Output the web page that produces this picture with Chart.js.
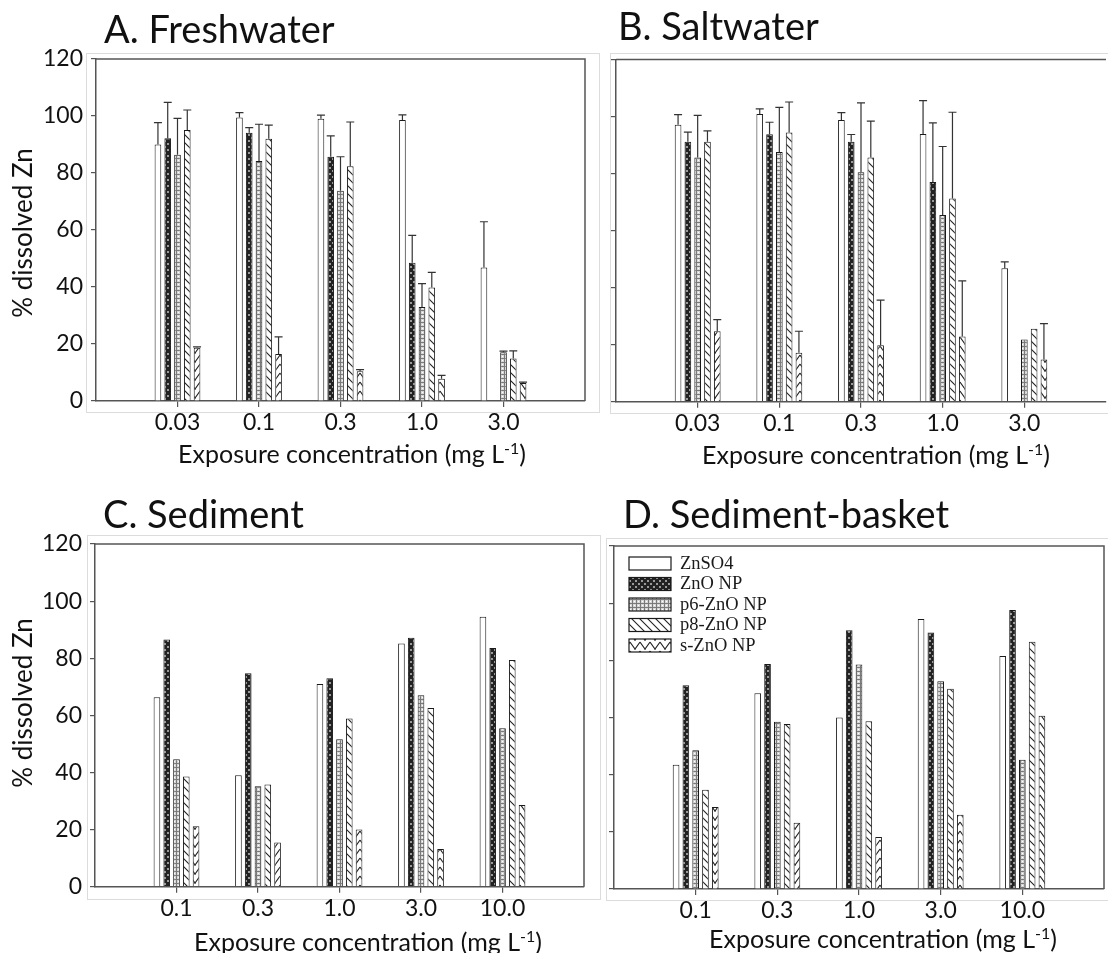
<!DOCTYPE html>
<html>
<head>
<meta charset="utf-8">
<script src="https://cdn.jsdelivr.net/npm/chart.js@4.4.1/dist/chart.umd.min.js"></script>
<style>
  html, body { margin: 0; padding: 0; background: #fff; }
  body { width: 1108px; height: 953px; position: relative; overflow: hidden; font-family: Lato, sans-serif; color: #111; }
  canvas { position: absolute; }
  .frame { position: absolute; border: 1px solid #dcdcdc; box-sizing: border-box; }
  .title { position: absolute; font-size: 38px; line-height: 38px; white-space: nowrap; z-index: 2; }
  .xtitle { position: absolute; width: 500px; text-align: center; font-size: 25px; line-height: 30px; white-space: nowrap; z-index: 2; }
  .xtitle sup { font-size: 16px; vertical-align: 9px; line-height: 0; }
  .ytitle { position: absolute; width: 240px; text-align: center; font-size: 26px; line-height: 30px; white-space: nowrap; transform: rotate(-90deg); z-index: 2; }
</style>
</head>
<body>
<div class="frame" style="left:86px;top:53px;width:514px;height:360px"></div>
<div class="frame" style="left:610px;top:53px;width:510px;height:361px"></div>
<div class="frame" style="left:87px;top:535px;width:514px;height:365px"></div>
<div class="frame" style="left:606px;top:538px;width:514px;height:363px"></div>

<canvas id="chartA"></canvas>
<canvas id="chartB"></canvas>
<canvas id="chartC"></canvas>
<canvas id="chartD"></canvas>

<div class="title" style="left:104px;top:9px">A. Freshwater</div>
<div class="title" style="left:618px;top:6px">B. Saltwater</div>
<div class="title" style="left:103px;top:494px">C. Sediment</div>
<div class="title" style="left:623px;top:494px">D. Sediment-basket</div>

<div class="xtitle" style="left:102px;top:438px">Exposure concentration (mg L<sup>-1</sup>)</div>
<div class="xtitle" style="left:626px;top:439px">Exposure concentration (mg L<sup>-1</sup>)</div>
<div class="xtitle" style="left:118px;top:926px">Exposure concentration (mg L<sup>-1</sup>)</div>
<div class="xtitle" style="left:633px;top:923px">Exposure concentration (mg L<sup>-1</sup>)</div>

<div class="ytitle" style="left:-98px;top:218px">% dissolved Zn</div>
<div class="ytitle" style="left:-98px;top:688px">% dissolved Zn</div>

<script>
// 물에서 노출한 농도와 퇴적물에서 노출한 농도 (mg/L)
const WATER_CONC = ['0.03', '0.1', '0.3', '1.0', '3.0'];
const SEDIMENT_CONC = ['0.1', '0.3', '1.0', '3.0', '10.0'];
const SERIES = ['ZnSO4', 'ZnO NP', 'p6-ZnO NP', 'p8-ZnO NP', 's-ZnO NP'];
const Y_MIN = 0;
const Y_MAX = 120;
const Y_STEP = 20;

// A. Freshwater: 평균과 위쪽 표준편차
const FRESH_ZNSO4 = [90.0, 99.5, 99.0, 98.6, 46.8];
const FRESH_ZNO = [92.2, 94.1, 85.7, 48.5, null];
const FRESH_P6 = [86.4, 84.2, 73.8, 33.0, 17.1];
const FRESH_P8 = [95.1, 92.0, 82.4, 39.8, 14.9];
const FRESH_S = [18.7, 16.5, 10.4, 7.8, 6.3];
const FRESH_ZNSO4_SD = [7.7, 1.7, 1.3, 1.8, 16.1];
const FRESH_ZNO_SD = [12.6, 1.8, 7.3, 9.6, null];
const FRESH_P6_SD = [12.8, 12.9, 11.9, 8.2, 0.4];
const FRESH_P8_SD = [7.0, 4.8, 15.5, 5.3, 2.7];
const FRESH_S_SD = [0.3, 6.0, 0.6, 1.2, 0.3];

// B. Saltwater
const SALT_ZNSO4 = [97.1, 100.9, 98.8, 93.9, 46.8];
const SALT_ZNO = [91.2, 93.8, 91.2, 77.0, null];
const SALT_P6 = [85.6, 87.6, 80.5, 65.5, 21.8];
const SALT_P8 = [91.2, 94.4, 85.6, 71.3, 25.6];
const SALT_S = [24.7, 17.2, 19.8, 22.9, 14.8];
const SALT_ZNSO4_SD = [3.6, 1.8, 2.6, 11.7, 2.2];
const SALT_ZNO_SD = [3.3, 4.2, 2.5, 20.8, null];
const SALT_P6_SD = [14.8, 15.6, 24.3, 24.0, null];
const SALT_P8_SD = [3.8, 10.7, 12.8, 30.2, null];
const SALT_S_SD = [4.1, 7.5, 15.8, 19.5, 12.6];

// C. Sediment
const SED_ZNSO4 = [66.3, 39.0, 71.0, 85.2, 94.5];
const SED_ZNO = [86.6, 74.7, 73.0, 87.2, 83.6];
const SED_P6 = [44.6, 35.2, 51.6, 67.0, 55.5];
const SED_P8 = [38.6, 35.8, 58.9, 62.6, 79.4];
const SED_S = [21.2, 15.5, 20.0, 13.2, 28.6];

// D. Sediment-basket
const BASKET_ZNSO4 = [43.5, 68.5, 60.0, 94.5, 81.5];
const BASKET_ZNO = [71.3, 78.7, 90.5, 89.7, 97.6];
const BASKET_P6 = [48.5, 58.5, 78.5, 72.7, 45.2];
const BASKET_P8 = [34.7, 57.7, 58.7, 70.1, 86.5];
const BASKET_S = [28.7, 23.2, 18.2, 26.0, 60.6];

const AXIS = '#555';
const INK = '#1a1a1a';

function tile(w, h, draw) {
  const c = document.createElement('canvas');
  c.width = w;
  c.height = h;
  const g = c.getContext('2d');
  draw(g, w, h);
  return g.createPattern(c, 'repeat');
}

const FILLS = [
  '#ffffff',
  tile(6, 6, (g) => {
    g.fillStyle = '#222';
    g.fillRect(0, 0, 6, 6);
    g.fillStyle = '#9a9a9a';
    g.fillRect(2, 2, 2, 2);
    g.fillRect(0, 0, 1, 1);
    g.fillRect(5, 5, 1, 1);
    g.fillRect(0, 5, 1, 1);
    g.fillRect(5, 0, 1, 1);
  }),
  tile(4, 4, (g) => {
    g.fillStyle = '#d6d6d6';
    g.fillRect(0, 0, 4, 4);
    g.fillStyle = '#7a7a7a';
    g.fillRect(0, 0, 4, 1);
    g.fillRect(0, 0, 1, 4);
    g.fillStyle = '#fff';
    g.fillRect(2, 2, 1, 1);
  }),
  tile(8, 8, (g) => {
    g.fillStyle = '#fff';
    g.fillRect(0, 0, 8, 8);
    g.strokeStyle = '#222';
    g.lineWidth = 1.1;
    g.beginPath();
    g.moveTo(-1, -1); g.lineTo(9, 9);
    g.moveTo(-1, 7); g.lineTo(1, 9);
    g.moveTo(7, -1); g.lineTo(9, 1);
    g.stroke();
  }),
  tile(10, 9, (g) => {
    g.fillStyle = '#fff';
    g.fillRect(0, 0, 10, 9);
    g.strokeStyle = '#222';
    g.lineWidth = 1.1;
    g.beginPath();
    g.moveTo(0, 1); g.lineTo(5, 8); g.lineTo(10, 1);
    g.moveTo(5, 8); g.lineTo(5, 9);
    g.stroke();
  }),
];

const pad = (arr) => [null, ...arr, null];

const framePlugin = {
  id: 'frame',
  afterDraw(chart, _args, opts) {
    const { ctx, chartArea: a } = chart;
    ctx.save();
    ctx.strokeStyle = AXIS;
    ctx.lineWidth = 1.5;
    ctx.beginPath();
    ctx.moveTo(a.left, a.top);
    ctx.lineTo(a.right, a.top);
    if (!opts.noRight) ctx.lineTo(a.right, a.bottom);
    ctx.stroke();
    ctx.restore();
  },
};

const errorPlugin = {
  id: 'errorBars',
  afterDatasetsDraw(chart) {
    const { ctx } = chart;
    const yScale = chart.scales.y;
    ctx.save();
    ctx.strokeStyle = '#333';
    ctx.lineWidth = 1.2;
    chart.data.datasets.forEach((ds, i) => {
      if (!ds.errors) return;
      const meta = chart.getDatasetMeta(i);
      ds.data.forEach((v, j) => {
        const sd = ds.errors[j];
        if (v == null || sd == null) return;
        const bar = meta.data[j];
        const yTop = yScale.getPixelForValue(v + sd);
        ctx.beginPath();
        ctx.moveTo(bar.x, bar.y);
        ctx.lineTo(bar.x, yTop);
        ctx.moveTo(bar.x - 4, yTop);
        ctx.lineTo(bar.x + 4, yTop);
        ctx.stroke();
      });
    });
    ctx.restore();
  },
};

const legendPlugin = {
  id: 'innerLegend',
  afterDatasetsDraw(chart, _args, opts) {
    if (!opts.show) return;
    const { ctx, chartArea: a } = chart;
    ctx.save();
    ctx.font = '18.5px "Liberation Serif", "Times New Roman", serif';
    ctx.textBaseline = 'middle';
    chart.data.datasets.forEach((ds, i) => {
      const x = a.left + 15;
      const y = a.top + 11 + i * 20.5;
      ctx.fillStyle = ds.backgroundColor;
      ctx.fillRect(x, y, 42, 13);
      ctx.strokeStyle = INK;
      ctx.lineWidth = 1.2;
      ctx.strokeRect(x, y, 42, 13);
      ctx.fillStyle = INK;
      ctx.fillText(ds.label, x + 51, y + 7);
    });
    ctx.restore();
  },
};

function renderPanel(canvasId, { rect, area, cats, means, errors, showYLabels, legend, noRight }) {
  const el = document.getElementById(canvasId);
  el.width = rect.w;
  el.height = rect.h;
  el.style.left = rect.x + 'px';
  el.style.top = rect.y + 'px';
  const tickFont = { family: 'Lato', size: 23 };
  return new Chart(el, {
    type: 'bar',
    data: {
      labels: ['', ...cats, ''],
      datasets: SERIES.map((name, i) => ({
        label: name,
        data: pad(means[i]),
        errors: errors ? pad(errors[i]) : null,
        backgroundColor: FILLS[i],
        borderColor: INK,
        borderWidth: 1,
        categoryPercentage: 0.6,
        barPercentage: 0.68,
      })),
    },
    options: {
      responsive: false,
      animation: false,
      layout: { padding: { top: area.top - rect.y, left: 0, right: rect.x + rect.w - area.right, bottom: 0 } },
      plugins: {
        legend: { display: false },
        tooltip: { enabled: false },
        frame: { noRight },
        innerLegend: { show: legend },
      },
      scales: {
        x: {
          offset: false,
          grid: {
            offset: false,
            drawOnChartArea: false,
            tickLength: 6,
            lineWidth: 1.2,
            color: (c) => (c.tick && c.tick.label === '' ? 'rgba(0,0,0,0)' : AXIS),
          },
          border: { color: AXIS, width: 1.5 },
          ticks: { font: tickFont, color: '#111', padding: 2, maxRotation: 0, autoSkip: false },
          afterFit: (s) => { s.height = rect.y + rect.h - area.bottom; },
        },
        y: {
          min: Y_MIN,
          max: Y_MAX,
          grid: { drawOnChartArea: false, tickLength: 5, lineWidth: 1.2, color: AXIS },
          border: { color: AXIS, width: 1.5 },
          ticks: {
            stepSize: Y_STEP,
            font: tickFont,
            color: '#111',
            padding: 8,
            callback: (v) => (showYLabels ? v : ''),
          },
          afterFit: (s) => { s.width = area.left - rect.x; },
        },
      },
    },
    plugins: [framePlugin, errorPlugin, legendPlugin],
  });
}

renderPanel('chartA', {
  rect: { x: 0, y: 30, w: 600, h: 440 },
  area: { left: 96, top: 59, right: 585, bottom: 401 },
  cats: WATER_CONC,
  means: [FRESH_ZNSO4, FRESH_ZNO, FRESH_P6, FRESH_P8, FRESH_S],
  errors: [FRESH_ZNSO4_SD, FRESH_ZNO_SD, FRESH_P6_SD, FRESH_P8_SD, FRESH_S_SD],
  showYLabels: true,
});

renderPanel('chartB', {
  rect: { x: 600, y: 30, w: 508, h: 440 },
  area: { left: 616, top: 59.5, right: 1106, bottom: 401.7 },
  cats: WATER_CONC,
  means: [SALT_ZNSO4, SALT_ZNO, SALT_P6, SALT_P8, SALT_S],
  errors: [SALT_ZNSO4_SD, SALT_ZNO_SD, SALT_P6_SD, SALT_P8_SD, SALT_S_SD],
  showYLabels: false,
  noRight: true,
});

renderPanel('chartC', {
  rect: { x: 0, y: 515, w: 600, h: 438 },
  area: { left: 95, top: 544, right: 584, bottom: 886.7 },
  cats: SEDIMENT_CONC,
  means: [SED_ZNSO4, SED_ZNO, SED_P6, SED_P8, SED_S],
  showYLabels: true,
});

renderPanel('chartD', {
  rect: { x: 600, y: 515, w: 508, h: 438 },
  area: { left: 614, top: 546, right: 1104, bottom: 889 },
  cats: SEDIMENT_CONC,
  means: [BASKET_ZNSO4, BASKET_ZNO, BASKET_P6, BASKET_P8, BASKET_S],
  showYLabels: false,
  legend: true,
});
</script>
</body>
</html>
